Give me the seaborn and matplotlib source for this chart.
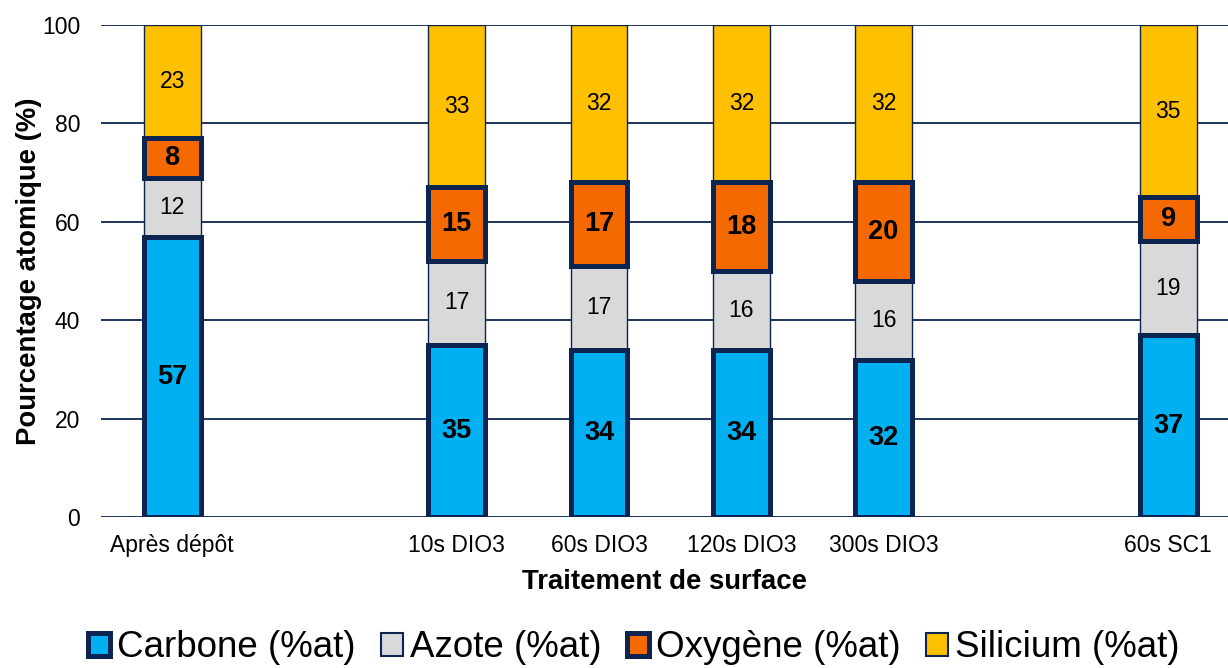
import numpy as np
import pandas as pd
import matplotlib
matplotlib.use('Agg')
import matplotlib.pyplot as plt
from matplotlib.patches import Patch
import seaborn as sns

# Data
categories = ['Après dépôt', '10s DIO3', '60s DIO3', '120s DIO3', '300s DIO3', '60s SC1']
# empty slots between groups on the x axis
order = ['Après dépôt', ' ', '10s DIO3', '60s DIO3', '120s DIO3', '300s DIO3', '  ', '60s SC1']
carbone = [57, 35, 34, 34, 32, 37]
azote = [12, 17, 17, 16, 16, 19]
oxygene = [8, 15, 17, 18, 20, 9]
silicium = [23, 33, 32, 32, 32, 35]

series = ['Carbone (%at)', 'Azote (%at)', 'Oxygène (%at)', 'Silicium (%at)']
colors = ['#00B0F0', '#D9D9D9', '#F46A00', '#FFC000']
navy = '#0C2450'
thick = [True, False, True, False]

df = pd.DataFrame({'Traitement': categories, 'Carbone (%at)': carbone,
                   'Azote (%at)': azote, 'Oxygène (%at)': oxygene,
                   'Silicium (%at)': silicium})

sns.set_style('white')
plt.rcParams['font.family'] = ['Liberation Sans', 'DejaVu Sans']
plt.rcParams['text.color'] = 'black'
plt.rcParams['axes.labelcolor'] = 'black'
plt.rcParams['xtick.color'] = 'black'
plt.rcParams['ytick.color'] = 'black'

fig = plt.figure(figsize=(12.28, 6.68), dpi=100)
ax = fig.add_axes([0.0822, 0.226, 0.9178, 0.7366])

bottom = np.zeros(len(categories))
for col, c, tk in zip(series, colors, thick):
    sns.barplot(data=df, x='Traitement', y=col, order=order, bottom=bottom,
                width=0.4, color=c, saturation=1, errorbar=None,
                edgecolor=navy, linewidth=3.6 if tk else 1.0,
                zorder=3 if tk else 2, ax=ax)
    bottom = bottom + df[col].to_numpy()

for cont, tk in zip(ax.containers, thick):
    ax.bar_label(cont, label_type='center', fontsize=19.5 if tk else 16.5,
                 fontweight='bold' if tk else 'normal', color='black')

ax.set_xlim(-0.5, 7.42)
ax.set_ylim(0, 100)
ax.set_yticks(range(0, 101, 20))
ax.set_axisbelow(True)
ax.yaxis.grid(True, color=navy, linewidth=1.3)
ax.xaxis.grid(False)
for s in ax.spines.values():
    s.set_visible(False)
ax.tick_params(axis='y', length=0, pad=15, labelsize=16.5)
ax.tick_params(axis='x', length=0, pad=12, labelsize=16.5)

ax.set_xlabel('Traitement de surface', fontsize=19.8, fontweight='bold', labelpad=9)
ax.set_ylabel('Pourcentage atomique (%)', fontsize=19.8, fontweight='bold', labelpad=0)

handles = [Patch(facecolor=c, edgecolor=navy, linewidth=3.6 if tk else 1.5)
           for c, tk in zip(colors, thick)]
fig.legend(handles, series, loc='center', bbox_to_anchor=(0.516, 0.03), ncol=4,
           frameon=False, fontsize=26.5, handlelength=0.6, handleheight=0.6,
           handletextpad=0.18, columnspacing=0.7, borderaxespad=0)

fig.savefig('out.png', dpi=100)
